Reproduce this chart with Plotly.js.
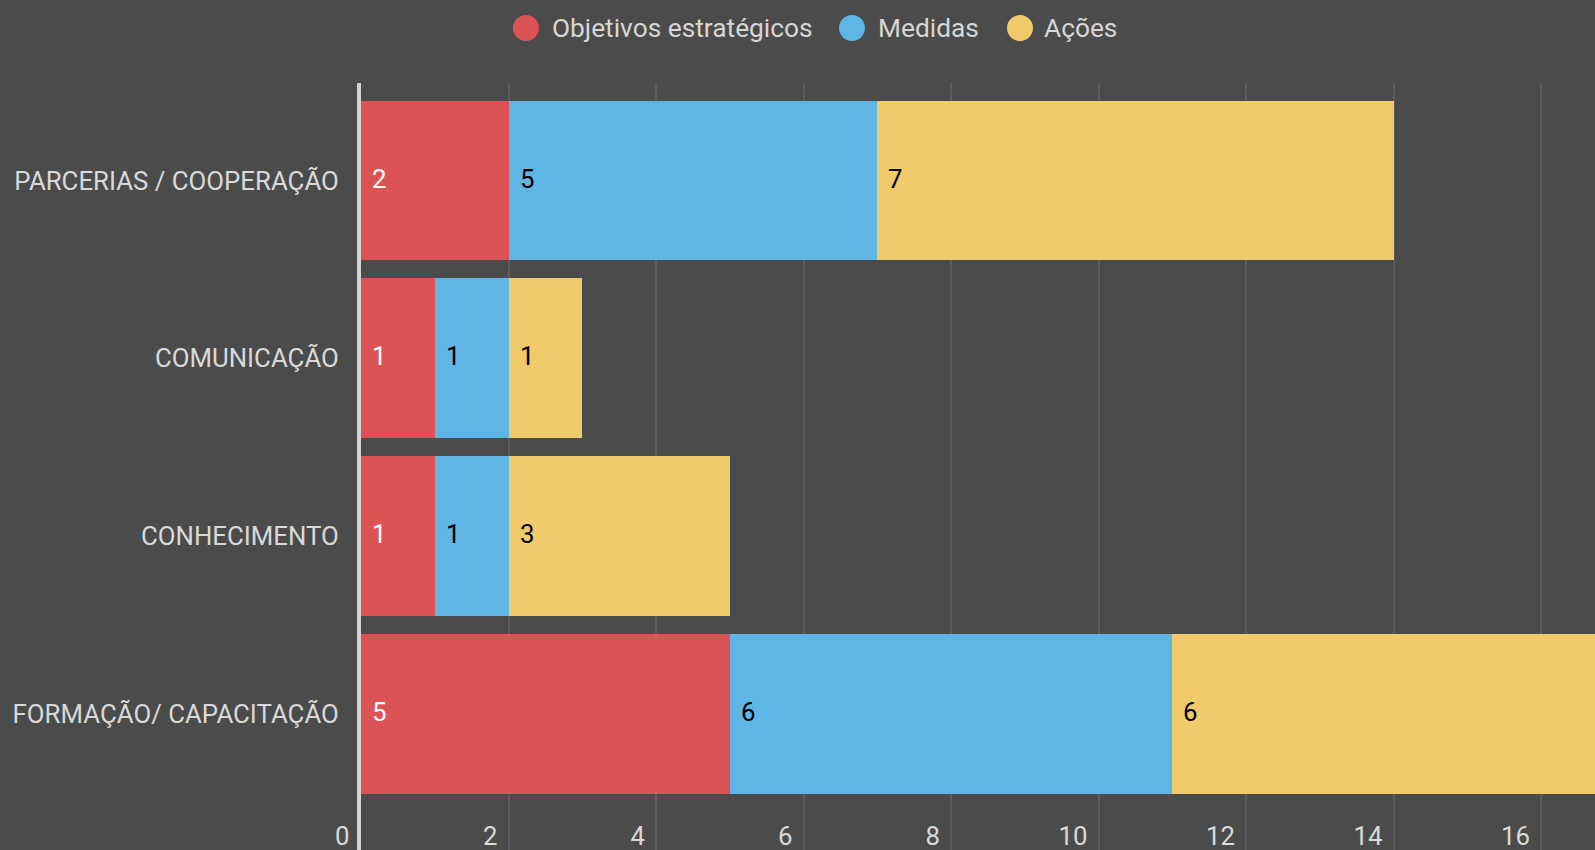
<!DOCTYPE html>
<html>
<head>
<meta charset="utf-8">
<script src="https://cdn.plot.ly/plotly-3.0.1.min.js"></script>
<style>
  html, body { margin: 0; padding: 0; background: #4b4b4b; }
  #chart { width: 1595px; height: 850px; }
</style>
</head>
<body>
<div id="chart"></div>
<script>
// ---- data (bottom to top) ----
const categories = ['FORMAÇÃO/ CAPACITAÇÃO', 'CONHECIMENTO', 'COMUNICAÇÃO', 'PARCERIAS / COOPERAÇÃO'];
const seriesNames = ['Objetivos estratégicos', 'Medidas', 'Ações'];
const objetivos = [5, 1, 1, 2];
const medidas   = [6, 1, 1, 5];
const acoes     = [6, 3, 1, 7];
const xTickVals = [0, 2, 4, 6, 8, 10, 12, 14, 16];

// ---- styles ----
const colors = ['#dc5355', '#5fb6e4', '#efcb6b'];
const labelColors = ['#ffffff', '#000000', '#000000'];
const W = 1595, H = 850;
const L = 361, T = 83;
const plotW = W - L, plotH = H - T;
const FONT = 'Roboto, "Open Sans", sans-serif';
const FS = 25.8;
const LEG_FS = 26.3;

const series = [objetivos, medidas, acoes];

const traces = series.map((vals, i) => ({
  type: 'bar',
  orientation: 'h',
  name: seriesNames[i],
  y: categories,
  x: vals,
  marker: { color: colors[i], line: { width: 0 } },
  showlegend: false,
  hoverinfo: 'none'
}));

// value labels at the start of each segment
const annotations = [];
categories.forEach((cat, ci) => {
  let base = 0;
  series.forEach((vals, si) => {
    annotations.push({
      x: base, y: cat, xref: 'x', yref: 'y',
      text: String(vals[ci]),
      showarrow: false, xanchor: 'left', yanchor: 'middle',
      xshift: 9, yshift: 2,
      font: { family: FONT, size: FS, color: labelColors[si] }
    });
    base += vals[ci];
  });
});

// the first tick label (at the axis line) sits outside the plot area
annotations.push({
  x: xTickVals[0], y: 0, xref: 'x', yref: 'paper',
  text: String(xTickVals[0]), showarrow: false,
  xanchor: 'right', yanchor: 'bottom', xshift: -9, yshift: -3,
  font: { family: FONT, size: FS, color: '#d9d9d9' }
});

// custom legend with large circles
const px2x = px => (px - L) / plotW;
const px2y = py => (H - py) / plotH;
const legendCircleX = [526, 852, 1020];
const legendTextX = [550, 876, 1042];
const legendY = 28;
const shapes = [];
seriesNames.forEach((name, i) => {
  shapes.push({
    type: 'circle', xref: 'paper', yref: 'paper',
    xsizemode: 'pixel', ysizemode: 'pixel',
    xanchor: px2x(legendCircleX[i]), yanchor: px2y(legendY),
    x0: -13, x1: 13, y0: -13, y1: 13,
    fillcolor: colors[i], line: { width: 0 }
  });
  annotations.push({
    x: px2x(legendTextX[i]), y: px2y(legendY), xref: 'paper', yref: 'paper',
    text: name, showarrow: false, xanchor: 'left', yanchor: 'middle',
    font: { family: FONT, size: LEG_FS, color: '#d6d6d6' }
  });
});

const pxPerUnit = 73.75;
const layout = {
  width: W, height: H,
  paper_bgcolor: '#4b4b4b',
  plot_bgcolor: '#4b4b4b',
  barmode: 'stack',
  bargap: 0.1,
  showlegend: false,
  margin: { l: L, r: 0, t: T, b: 0, pad: 0 },
  font: { family: FONT, size: FS, color: '#d9d9d9' },
  xaxis: {
    range: [0, plotW / pxPerUnit],
    tickvals: xTickVals,
    ticktext: xTickVals.map(String),
    ticks: '',
    ticklabelposition: 'inside left',
    ticklabelshift: -11,
    ticklabelstandoff: -6,
    tickfont: { family: FONT, size: FS, color: '#d9d9d9' },
    showgrid: true, gridcolor: '#5c5c5c', gridwidth: 2,
    zeroline: false, showline: false,
    fixedrange: true
  },
  yaxis: {
    type: 'category',
    categoryorder: 'array', categoryarray: categories,
    range: [-0.768, 3.549],
    ticks: '',
    tickfont: { family: FONT, size: FS, color: '#d9d9d9' },
    showgrid: false, zeroline: false,
    showline: true, linecolor: '#d4d4d4', linewidth: 4,
    ticklabelstandoff: 13,
    fixedrange: true
  },
  shapes: shapes,
  annotations: annotations
};

Plotly.newPlot('chart', traces, layout, { displayModeBar: false, staticPlot: true });
</script>
</body>
</html>
